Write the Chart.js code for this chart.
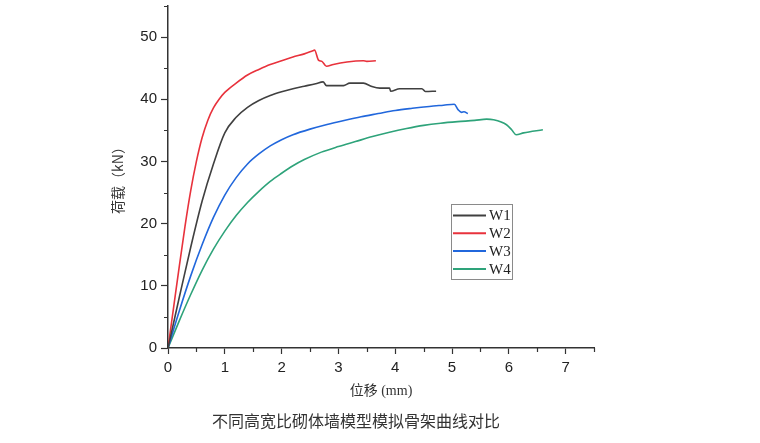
<!DOCTYPE html>
<html>
<head>
<meta charset="utf-8">
<script src="https://cdn.jsdelivr.net/npm/chart.js@4"></script>
<style>
  body { margin: 0; background: #fff; }
  #wrap { position: relative; width: 760px; height: 443px; }
  #caption {
    position: absolute; left: 0; top: 408px; width: 712px; text-align: center;
    font-family: 'Noto Sans CJK SC', sans-serif; font-size: 16px; color: #333;
  }
</style>
</head>
<body>
<div id="wrap">
  <canvas id="grafico" width="760" height="443"></canvas>
  <div id="caption">不同高宽比砌体墙模型模拟骨架曲线对比</div>
</div>
<script>
// datos: desplazamiento (mm) y carga (kN)
const seriesNames = ['W1', 'W2', 'W3', 'W4'];
const seriesColors = ['#404040', '#e8323c', '#2167dc', '#2ea37a'];

const w1X = [0, 0.2, 0.4, 0.6, 0.8, 1.0, 1.2, 1.4, 1.6, 1.8, 2.0, 2.2, 2.4, 2.6, 2.73, 2.79, 3.09, 3.20, 3.44, 3.59, 3.73, 3.90, 3.92, 4.08, 4.26, 4.47, 4.53, 4.72];
const w1Y = [0, 8.2, 16.2, 23.6, 29.6, 34.6, 37.1, 38.7, 39.8, 40.6, 41.2, 41.7, 42.1, 42.5, 42.8, 42.2, 42.2, 42.6, 42.6, 42.05, 41.8, 41.8, 41.3, 41.7, 41.7, 41.7, 41.25, 41.3];

const w2X = [0, 0.1, 0.2, 0.3, 0.4, 0.5, 0.6, 0.7, 0.8, 0.9, 1.0, 1.2, 1.4, 1.6, 1.8, 2.0, 2.2, 2.4, 2.55, 2.58, 2.65, 2.71, 2.79, 2.91, 3.15, 3.44, 3.50, 3.66];
const w2Y = [0, 6.6, 13.2, 19.6, 25.3, 30.0, 33.8, 36.6, 38.6, 40.0, 41.1, 42.6, 43.9, 44.8, 45.6, 46.2, 46.8, 47.3, 47.8, 47.9, 46.3, 46.1, 45.3, 45.6, 46.0, 46.2, 46.1, 46.2];

const w3X = [0, 0.2, 0.4, 0.6, 0.8, 1.0, 1.2, 1.4, 1.6, 1.8, 2.0, 2.2, 2.5, 2.8, 3.1, 3.4, 3.7, 4.0, 4.3, 4.6, 4.85, 5.04, 5.11, 5.17, 5.21, 5.28];
const w3Y = [0, 6.0, 11.6, 16.6, 21.0, 24.6, 27.4, 29.6, 31.2, 32.5, 33.5, 34.3, 35.2, 35.95, 36.6, 37.2, 37.7, 38.2, 38.55, 38.85, 39.05, 39.2, 38.3, 37.9, 38.0, 37.7];

const w4X = [0, 0.2, 0.4, 0.6, 0.8, 1.0, 1.2, 1.4, 1.6, 1.8, 2.0, 2.2, 2.4, 2.7, 3.0, 3.3, 3.6, 3.9, 4.2, 4.5, 4.8, 5.1, 5.4, 5.61, 5.73, 5.96, 6.05, 6.13, 6.26, 6.60];
const w4Y = [0, 4.4, 8.6, 12.5, 15.9, 18.8, 21.3, 23.4, 25.2, 26.8, 28.1, 29.3, 30.3, 31.5, 32.4, 33.2, 34.0, 34.7, 35.3, 35.8, 36.15, 36.4, 36.6, 36.8, 36.7, 35.9, 35.1, 34.3, 34.6, 35.1];

const xTicks = [0, 1, 2, 3, 4, 5, 6, 7];
const yTicks = [0, 10, 20, 30, 40, 50];
const xMax = 7.5;
const yMax = 55;

const axisColor = '#333';

document.addEventListener("DOMContentLoaded", () => {

    const grafico = document.querySelector("#grafico");

    const toPoints = (xs, ys) => xs.map((x, i) => ({ x: x, y: ys[i] }));
    const allX = [w1X, w2X, w3X, w4X];
    const allY = [w1Y, w2Y, w3Y, w4Y];

    const datasets = seriesNames.map((name, i) => ({
        label: name,
        data: toPoints(allX[i], allY[i]),
        borderColor: seriesColors[i],
        backgroundColor: seriesColors[i],
        borderWidth: 1.6,
        pointRadius: 0,
        cubicInterpolationMode: 'monotone'
    }));

    // ticks menores a mitad de paso
    const minorTicks = {
        id: 'minorTicks',
        afterDraw(chart) {
            const ctx = chart.ctx;
            const sx = chart.scales.x, sy = chart.scales.y;
            ctx.save();
            ctx.strokeStyle = axisColor;
            ctx.lineWidth = 1.2;
            ctx.beginPath();
            for (let i = 0; i < xTicks.length; i++) {
                const px = Math.round(sx.getPixelForValue(xTicks[i] + 0.5)) + 0.5;
                ctx.moveTo(px, sy.bottom);
                ctx.lineTo(px, sy.bottom + 4);
            }
            for (let i = 0; i < yTicks.length; i++) {
                const py = Math.round(sy.getPixelForValue(yTicks[i] + 5)) + 0.5;
                ctx.moveTo(sx.left, py);
                ctx.lineTo(sx.left - 4, py);
            }
            ctx.stroke();
            ctx.restore();
        }
    };

    // leyenda dentro del area
    const legendBox = {
        id: 'legendBox',
        afterDraw(chart) {
            const ctx = chart.ctx;
            ctx.save();
            ctx.strokeStyle = '#8a8a8a';
            ctx.lineWidth = 1;
            ctx.strokeRect(451.5, 204.5, 61, 75);
            ctx.font = "15px 'Liberation Serif'";
            ctx.textBaseline = 'middle';
            ctx.fillStyle = '#222';
            chart.data.datasets.forEach((ds, i) => {
                const y = 215.5 + i * 17.8;
                ctx.strokeStyle = ds.borderColor;
                ctx.lineWidth = 2;
                ctx.beginPath();
                ctx.moveTo(453, y);
                ctx.lineTo(486, y);
                ctx.stroke();
                ctx.fillText(ds.label, 489, y + 1);
            });
            ctx.restore();
        }
    };

    new Chart(grafico, {
        type: 'line',
        data: { datasets: datasets },
        options: {
            responsive: false,
            animation: false,
            layout: { padding: { left: 100, top: 6, right: 166, bottom: 35 } },
            plugins: { legend: { display: false }, tooltip: { enabled: false } },
            scales: {
                x: {
                    type: 'linear',
                    min: 0,
                    max: xMax,
                    afterBuildTicks: s => { s.ticks = xTicks.map(v => ({ value: v })); },
                    afterFit: s => { s.height = 60; },
                    ticks: { color: '#222', font: { family: 'Liberation Sans', size: 15 }, padding: 5 },
                    grid: { drawOnChartArea: false, tickLength: 6, color: axisColor, tickWidth: 1.2 },
                    border: { color: axisColor, width: 1.5 },
                    title: {
                        display: true,
                        text: '位移 (mm)',
                        color: '#333',
                        font: { family: "'Liberation Serif', 'Noto Sans CJK SC'", size: 14 },
                        padding: { top: 0, bottom: 8 }
                    }
                },
                y: {
                    min: 0,
                    max: yMax,
                    afterBuildTicks: s => { s.ticks = yTicks.map(v => ({ value: v })); },
                    afterFit: s => { s.width = 68; s.paddingTop = 0; s.paddingBottom = 0; },
                    ticks: { color: '#222', font: { family: 'Liberation Sans', size: 15 }, padding: 4 },
                    grid: { drawOnChartArea: false, tickLength: 7, color: axisColor, tickWidth: 1.2 },
                    border: { color: axisColor, width: 1.5 },
                    title: {
                        display: true,
                        text: '荷载（kN）',
                        color: '#333',
                        font: { family: "'Noto Sans CJK SC'", size: 14 },
                        padding: { top: 9, bottom: 0 }
                    }
                }
            }
        },
        plugins: [minorTicks, legendBox]
    });
});
</script>
</body>
</html>
